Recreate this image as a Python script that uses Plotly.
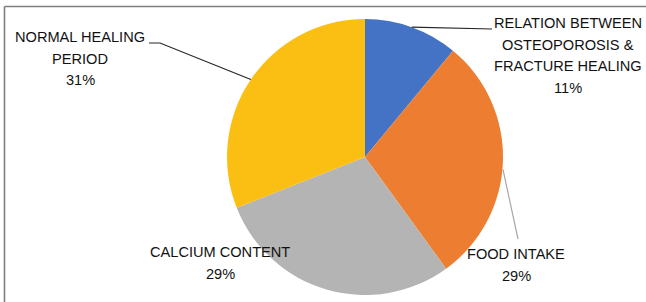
import math
import plotly.graph_objects as go

W, H = 646, 302

categories = ["RELATION BETWEEN OSTEOPOROSIS & FRACTURE HEALING",
              "FOOD INTAKE", "CALCIUM CONTENT", "NORMAL HEALING PERIOD"]
values = [11, 29, 29, 31]
label_lines = [["RELATION BETWEEN", "OSTEOPOROSIS &", "FRACTURE HEALING", "11%"],
               ["FOOD INTAKE", "29%"],
               ["CALCIUM CONTENT", "29%"],
               ["NORMAL HEALING", "PERIOD", "31%"]]
colors = ["#4472C4", "#ED7D31", "#B4B4B4", "#FBBF14"]

# pie geometry (pixels)
CX, CY, R = 365, 157, 138
dom_x = [(CX - R) / W, (CX + R) / W]
dom_y = [1 - (CY + R) / H, 1 - (CY - R) / H]


def px(x):
    return x / W


def py(y):
    return 1 - y / H


fig = go.Figure(go.Pie(
    labels=categories, values=values, sort=False, direction="clockwise",
    rotation=0, marker=dict(colors=colors, line=dict(width=0)),
    textinfo="none", hoverinfo="label+percent", showlegend=False,
    domain=dict(x=dom_x, y=dom_y),
))

# mid-angle points on slice edges, derived from the values
total = sum(values)
mids = []
cum = 0
for v in values:
    a = (cum + v / 2) / total * 2 * math.pi
    mids.append((CX + R * math.sin(a), CY - R * math.cos(a)))
    cum += v

# label layout: (center x, first line y) in pixels
label_pos = [(568, 23), (516, 254), (220, 252), (80, 37)]
LINE_H = 21.5
annotations = []
for (lx, ly), lines in zip(label_pos, label_lines):
    for i, t in enumerate(lines):
        annotations.append(dict(
            x=px(lx), y=py(ly + i * LINE_H), xref="paper", yref="paper",
            text=t, showarrow=False, xanchor="center", yanchor="middle",
            font=dict(family="Liberation Sans", size=14.6, color="#111111")))

shapes = []
# border frame
shapes.append(dict(type="line", xref="paper", yref="paper",
                   x0=px(4.5), y0=py(6.5), x1=px(W), y1=py(6.5),
                   line=dict(color="#7f7f7f", width=1.6)))
shapes.append(dict(type="line", xref="paper", yref="paper",
                   x0=px(4.5), y0=py(6.5), x1=px(4.5), y1=py(H),
                   line=dict(color="#7f7f7f", width=1.6)))

# leader lines
bx, by = mids[0]
shapes.append(dict(type="path", xref="paper", yref="paper",
                   path=f"M {px(bx)},{py(by)} L {px(492)},{py(29)}",
                   line=dict(color="#262626", width=1.2)))
ox, oy = mids[1]
shapes.append(dict(type="path", xref="paper", yref="paper",
                   path=f"M {px(ox)},{py(oy + 8)} L {px(518)},{py(239)}",
                   line=dict(color="#a6a6a6", width=1.2)))
yx, yy = mids[3]
shapes.append(dict(type="path", xref="paper", yref="paper",
                   path=f"M {px(yx)},{py(yy)} L {px(160)},{py(43)} L {px(149)},{py(43)}",
                   line=dict(color="#262626", width=1.2)))

fig.update_layout(
    width=W, height=H, margin=dict(l=0, r=0, t=0, b=0),
    paper_bgcolor="white", plot_bgcolor="white",
    annotations=annotations, shapes=shapes,
)

fig.write_html("out.html", config={"displayModeBar": False},
               post_script="document.body.style.margin='0';"
                           "document.body.style.overflow='hidden';")
